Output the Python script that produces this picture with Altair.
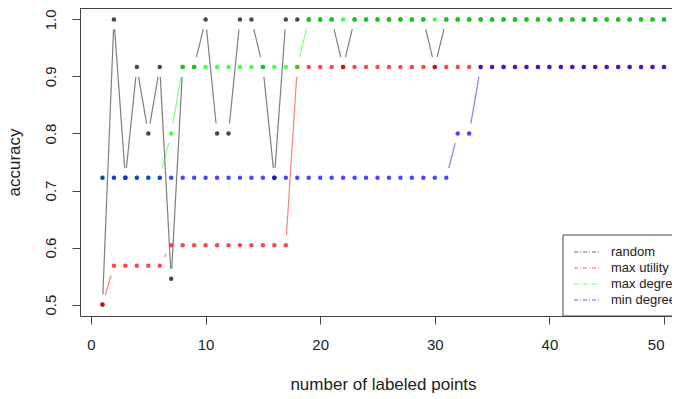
import altair as alt
import pandas as pd

# ---- data ----
x_vals = list(range(1, 51))
random_acc = [0.5, 1.0, 0.7222, 0.9167, 0.8, 0.9167, 0.5455, 0.9167, 0.9167, 1.0,
              0.8, 0.8, 1.0, 1.0, 0.9167, 0.7222, 1.0, 1.0, 1.0, 1.0,
              1.0, 0.9167, 1.0, 1.0, 1.0, 1.0, 1.0, 1.0, 1.0, 0.9167] + [1.0] * 20
max_utility = [0.5] + [0.568] * 5 + [0.604] * 11 + [0.9167] * 33
max_degree = [0.7222] * 6 + [0.8] + [0.9167] * 11 + [1.0] * 32
min_degree = [0.7222] * 31 + [0.8] * 2 + [0.9167] * 17

series_names = ["random", "max utility", "max degree", "min degree"]
series_colors = ["#000000", "#ff0000", "#00ff00", "#0000ff"]
x_ticks = [0, 10, 20, 30, 40, 50]
y_ticks = [0.5, 0.6, 0.7, 0.8, 0.9, 1.0]

rows = []
for k, (name, vals) in enumerate(zip(series_names, [random_acc, max_utility, max_degree, min_degree])):
    for xv, yv in zip(x_vals, vals):
        rows.append({"series": name, "k": k, "x": xv, "y": yv})
df = pd.DataFrame(rows)

W, H = 592, 308
KX = 11.46
XDOM = [-0.96, -0.96 + W / KX]
YDOM = [0.48, 1.02]
KY = H / (YDOM[1] - YDOM[0])
GAP = 10

FONT = "Liberation Sans"
FS_TICK = 15
FS_TITLE = 17

xscale = alt.Scale(domain=XDOM, nice=False, zero=False)
yscale = alt.Scale(domain=YDOM, nice=False, zero=False)
cscale = alt.Scale(domain=series_names, range=series_colors)

xaxis = alt.Axis(values=x_ticks, title="number of labeled points", grid=False,
                 tickSize=8, labelPadding=13, titlePadding=24, domainColor="#444",
                 tickColor="#444", labelFontSize=FS_TICK, titleFontSize=FS_TITLE,
                 labelColor="#222", titleColor="#222", titleFontWeight="normal",
                 labelFont=FONT, titleFont=FONT, titleX=303, format="d", labelFlush=9)
yaxis = alt.Axis(values=y_ticks, title="accuracy", grid=False, tickSize=8,
                 labelAngle=-90, labelAlign="center", labelBaseline="bottom",
                 labelPadding=14, titlePadding=20, domainColor="#444", tickColor="#444",
                 labelFontSize=FS_TICK, titleFontSize=FS_TITLE, labelColor="#222", titleColor="#222",
                 titleFontWeight="normal", labelFont=FONT, titleFont=FONT, format=".1f")

base = alt.Chart(df)

segments = base.transform_window(
    xn="lead(x)", yn="lead(y)", groupby=["series"], sort=[alt.SortField("x")]
).transform_filter("isValid(datum.xn)").transform_calculate(
    dx=f"(datum.xn - datum.x) * {KX}",
    dy=f"(datum.yn - datum.y) * {KY}",
).transform_calculate(
    L="sqrt(datum.dx * datum.dx + datum.dy * datum.dy)"
).transform_filter(f"datum.L > {2 * GAP}").transform_calculate(
    t=f"{GAP} / datum.L"
).transform_calculate(
    xa="datum.x + (datum.xn - datum.x) * datum.t",
    ya="datum.y + (datum.yn - datum.y) * datum.t",
    xb="datum.xn - (datum.xn - datum.x) * datum.t",
    yb="datum.yn - (datum.yn - datum.y) * datum.t",
).mark_rule(strokeWidth=1.2, opacity=0.5).encode(
    x=alt.X("xa:Q", scale=xscale, axis=xaxis),
    y=alt.Y("ya:Q", scale=yscale, axis=yaxis),
    x2="xb:Q",
    y2="yb:Q",
    color=alt.Color("series:N", scale=cscale, legend=None),
)

points = base.mark_circle(size=20, opacity=0.72).encode(
    x=alt.X("x:Q", scale=xscale),
    y=alt.Y("y:Q", scale=yscale),
    color=alt.Color("series:N", scale=cscale, legend=None),
    order=alt.Order("k:Q"),
)

top_border = base.mark_rule(color="#444", strokeWidth=1).encode(
    x=alt.value(0), x2=alt.value(W), y=alt.value(0)
)

# legend (decoration)
leg_df = pd.DataFrame({"series": series_names, "i": [0, 1, 2, 3]})
leg = alt.Chart(leg_df)
leg_y = alt.Y("i:Q", scale=alt.Scale(domain=[0, 3], range=[244, 292], nice=False, zero=False), axis=None)
leg_box = leg.transform_filter("datum.i == 0").mark_rect(fill="white", stroke="#444", strokeWidth=1).encode(
    x=alt.value(483), x2=alt.value(640), y=alt.value(227), y2=alt.value(H)
)
leg_lines = leg.mark_rule(strokeWidth=1.2, strokeDash=[4, 2, 1, 2], opacity=0.6).encode(
    x=alt.value(494), x2=alt.value(520),
    y=leg_y,
    color=alt.Color("series:N", scale=cscale, legend=None),
)
leg_text = leg.mark_text(align="left", baseline="middle", fontSize=13, font=FONT, color="#222").encode(
    x=alt.value(531),
    y=leg_y,
    text="series:N",
)

chart = alt.layer(segments, points, top_border, leg_box, leg_lines, leg_text).resolve_scale(
    y="independent"
).properties(
    width=W, height=H,
    autosize=alt.AutoSizeParams(type="none"),
    padding={"left": 72, "top": 0, "right": 0, "bottom": 83},
).configure_view(stroke=None)

chart.save("out.html", embed_options={"renderer": "svg", "actions": False})
